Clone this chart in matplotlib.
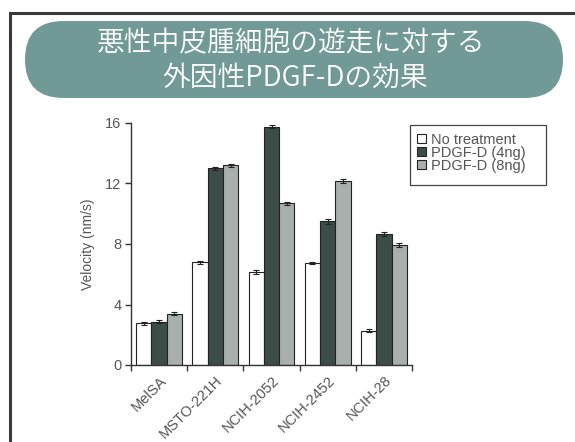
import numpy as np
import matplotlib
matplotlib.use('Agg')
import matplotlib.pyplot as plt
from matplotlib.patches import FancyBboxPatch, Rectangle
from matplotlib.transforms import offset_copy

################################# data #############################################
cell_lines = ['MelSA', 'MSTO-221H', 'NCIH-2052', 'NCIH-2452', 'NCIH-28']
no_treatment = [2.75, 6.8, 6.15, 6.75, 2.25]
pdgf_4ng = [2.85, 13.0, 15.75, 9.5, 8.65]
pdgf_8ng = [3.4, 13.2, 10.7, 12.15, 7.95]
err_none = [0.08, 0.1, 0.12, 0.08, 0.1]
err_4ng = [0.1, 0.1, 0.1, 0.15, 0.15]
err_8ng = [0.1, 0.12, 0.1, 0.12, 0.12]
series_labels = ['No treatment', 'PDGF-D (4ng)', 'PDGF-D (8ng)']
yticks = [0, 4, 8, 12, 16]
title_lines = ['悪性中皮腫細胞の遊走に対する', '外因性PDGF-Dの効果']

################################# style ############################################
plt.rcParams['font.family'] = ['Liberation Sans', 'DejaVu Sans']
text_gray = '#555555'
axis_gray = '#333333'
colors = ['white', '#3c4d49', '#a9afac']
cjk = ['Noto Sans CJK JP', 'DejaVu Sans']

fig = plt.figure(figsize=(5.75, 4.42), dpi=100)

# overlay in pixel units for the frame, the title pill and the legend box
deco = fig.add_axes([0, 0, 1, 1])
deco.set_xlim(0, 575)
deco.set_ylim(442, 0)
deco.axis('off')
deco.plot([10, 10, 575], [442, 13, 13], color='#3a3a3a', lw=2.2,
          solid_joinstyle='miter')
pill = FancyBboxPatch((25, 21), 538, 77,
                      boxstyle='round,pad=0,rounding_size=38.5',
                      facecolor='#719a97', edgecolor='none')
deco.add_patch(pill)
deco.text(291, 43, title_lines[0], color='white', fontsize=20,
          fontweight=350, ha='center', va='center', family=cjk)
deco.text(295, 78, title_lines[1], color='white', fontsize=20,
          fontweight=350, ha='center', va='center', family=cjk)
deco.add_patch(Rectangle((410, 125), 136, 60, facecolor='none',
                         edgecolor='#444444', lw=0.9))

################################# chart ############################################
ax = fig.add_axes([131 / 575, 1 - 365 / 442, 281 / 575, 242 / 442])
ax.patch.set_alpha(0)
x = np.arange(len(cell_lines))
w = 0.272
for k, (vals, errs) in enumerate(zip([no_treatment, pdgf_4ng, pdgf_8ng],
                                     [err_none, err_4ng, err_8ng])):
    ax.bar(x + (k - 1) * w, vals, w, yerr=errs, color=colors[k],
           edgecolor='#222222', linewidth=0.8, label=series_labels[k],
           error_kw=dict(ecolor='#222222', elinewidth=0.8, capsize=2, capthick=0.8))

ax.set_xlim(-0.5, len(cell_lines) - 0.5)
ax.set_ylim(0, 16)
ax.set_yticks(yticks)
ax.set_xticks(np.arange(len(cell_lines) + 1) - 0.5)
ax.set_xticklabels([])
ax.set_xticks(x, minor=True)
ax.set_xticklabels(cell_lines, minor=True, rotation=45, ha='right',
                   rotation_mode='anchor', fontsize=10.5, color=text_gray)
for lab in ax.get_xticklabels(minor=True):
    lab.set_transform(offset_copy(lab.get_transform(), fig=fig, x=5, y=2,
                                  units='dots'))
ax.tick_params(axis='x', which='minor', length=0, pad=6)
ax.tick_params(axis='x', which='major', length=4, color=axis_gray, width=1)
ax.tick_params(axis='y', length=4, color=axis_gray, width=1,
               labelsize=10.5, labelcolor=text_gray, pad=3)
for s in ['top', 'right']:
    ax.spines[s].set_visible(False)
for s in ['left', 'bottom']:
    ax.spines[s].set_color(axis_gray)
    ax.spines[s].set_linewidth(1)
ax.set_ylabel('Velocity (nm/s)', fontsize=10, color=text_gray, labelpad=7)

leg = ax.legend(loc='upper left', bbox_to_anchor=(417 / 575, 1 - 133 / 442),
                bbox_transform=fig.transFigure, fontsize=10.5, frameon=False,
                handlelength=0.6, handleheight=0.6, handletextpad=0.35,
                labelspacing=-0.08, borderpad=0, borderaxespad=0)
for t in leg.get_texts():
    t.set_color(text_gray)
for h in leg.legend_handles:
    h.set_linewidth(0.8)

fig.savefig('out.png', dpi=100)
